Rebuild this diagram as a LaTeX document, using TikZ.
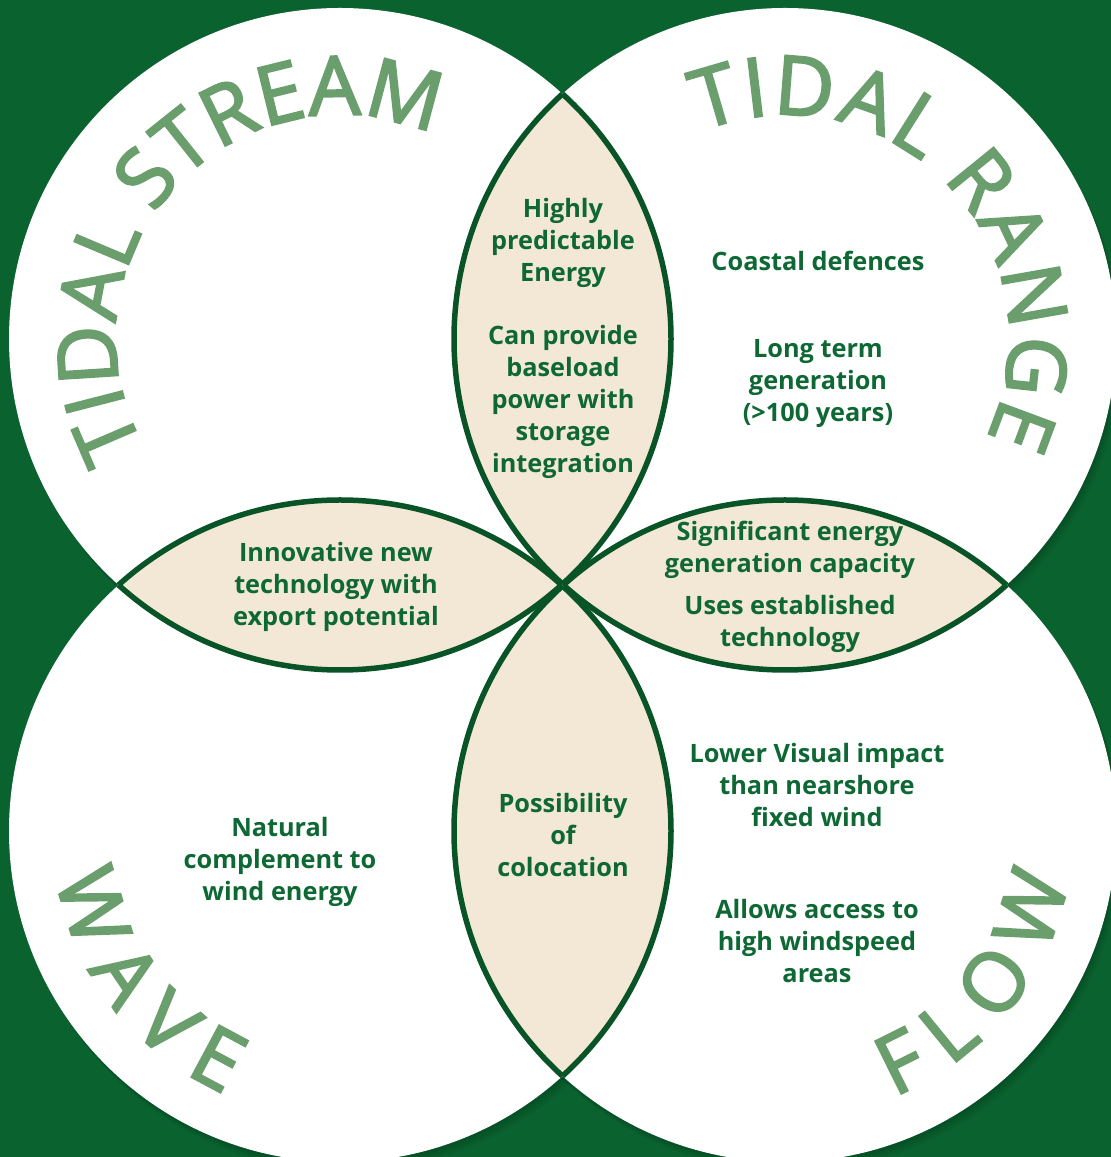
\documentclass[tikz,border=0pt]{standalone}
\usepackage{fontspec}
\setmainfont{Open Sans}
\newfontfamily\ringfam{Open Sans}[FakeBold=2.5]
\usetikzlibrary{positioning,calc,decorations.text}

\definecolor{bggreen}{RGB}{10,99,47}
\definecolor{rimgreen}{RGB}{8,84,38}
\definecolor{lensfill}{RGB}{243,231,213}
\definecolor{txtgreen}{RGB}{14,104,52}
\definecolor{titlegreen}{RGB}{107,158,109}

\newcommand{\ringfont}{\ringfam\fontsize{82}{90}\selectfont\color{titlegreen}}

\tikzset{
  fact/.style={align=center, text=txtgreen, font=\fontsize{25.3}{32}\selectfont\bfseries, inner sep=0pt},
  lens/.style={fill=lensfill},
  rim/.style={draw=rimgreen, line width=5.5pt},
  ringtext/.style={decorate, decoration={text along path, text align=fit to path, text={|\ringfont|#1}}},
}

\begin{document}
\begin{tikzpicture}[x=1pt,y=1pt]
\useasboundingbox (0,0) rectangle (1111,1157);
\clip (0,0) rectangle (1111,1157);
\fill[bggreen] (0,0) rectangle (1111,1157);

\coordinate (tl) at (340,818);
\coordinate (tr) at (785,818);
\coordinate (bl) at (340,326);
\coordinate (br) at (785,326);

% soft shadow and the four circles
\foreach \c in {tl,tr,bl,br}
  \foreach \d in {3,6,9}
    \fill[black, opacity=0.06] ($(\c)+(0.6*\d,-\d)$) circle[radius=331];
\foreach \c in {tl,tr,bl,br}
  \fill[white] (\c) circle[radius=331];

% overlaps
\begin{scope}
  \clip (tl) circle[radius=331];
  \fill[lens] (tr) circle[radius=331];
  \fill[lens] (bl) circle[radius=331];
\end{scope}
\begin{scope}
  \clip (br) circle[radius=331];
  \fill[lens] (tr) circle[radius=331];
  \fill[lens] (bl) circle[radius=331];
\end{scope}
\foreach \a/\b/\c in {tl/tr/bl, tr/tl/br, bl/tl/br, br/tr/bl} {
  \begin{scope}
    \clip (\a) circle[radius=331];
    \draw[rim] (\b) circle[radius=331];
    \draw[rim] (\c) circle[radius=331];
  \end{scope}
}

% circle titles
\path[ringtext=TIDAL STREAM] ($(tl)+(209:224)$) arc[start angle=209, end angle=65.6, radius=224];
\path[ringtext=TIDAL RANGE] ($(tr)+(112:224)$) arc[start angle=112, end angle=-26.2, radius=224];
\path[ringtext=WAVE] ($(bl)+(189.4:287)$) arc[start angle=189.4, end angle=246.4, radius=287];
\path[ringtext=FLOW] ($(br)+(-67.7:287)$) arc[start angle=-67.7, end angle=-10, radius=287];

% texts
\node[fact] (predict) at (563,914) {Highly\\predictable\\Energy};
\node[fact] (baseload) at (563,755) {Can provide\\baseload\\power with\\storage\\integration};
\node[fact] (coast) at (818,896) {Coastal defences};
\node[fact] (longterm) at (818,773) {Long term\\generation\\(>100 years)};
\node[fact] (innov) at (336,570) {Innovative new\\technology with\\export potential};
\node[fact] (capacity) at (790,607) {Significant energy\\generation capacity};
\node[fact] (estab) at (790,533) {Uses established\\technology};
\node[fact] (visual) at (817,372) {Lower Visual impact\\than nearshore\\fixed wind};
\node[fact] (access) at (817,216) {Allows access to\\high windspeed\\areas};
\node[fact] (coloc) at (563,322) {Possibility\\of\\colocation};
\node[fact] (natural) at (280,295) {Natural\\complement to\\wind energy};
\end{tikzpicture}
\end{document}
